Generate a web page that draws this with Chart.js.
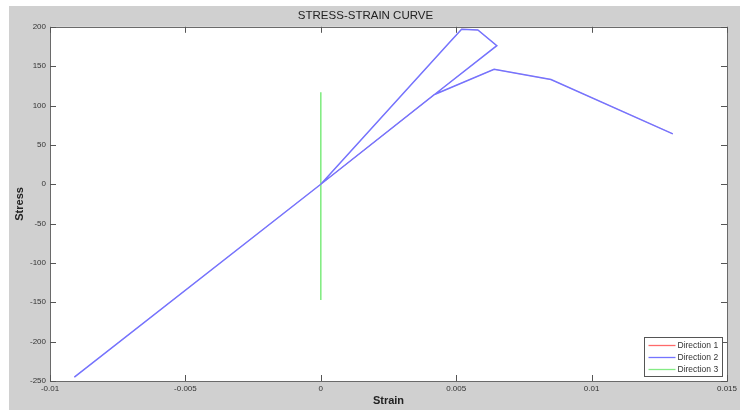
<!DOCTYPE html>
<html>
<head>
<meta charset="utf-8">
<script src="https://cdn.jsdelivr.net/npm/chart.js@4/dist/chart.umd.min.js"></script>
<style>
html,body{margin:0;padding:0;background:#fff;}
#wrap{width:740px;height:410px;position:relative;}
</style>
</head>
<body>
<div id="wrap"><canvas id="c" width="740" height="410"></canvas></div>
<script>
// ---- data ----
const strain1 = [-0.0091, 0, 0.0042, 0.0065, 0.0058, 0.0052, 0.0047, 0, 0.0042, 0.0064, 0.0085, 0.013];
const stress1 = [-245, 0, 114, 176, 196, 197, 178, 0, 114, 146, 133, 64];
const strain2 = [-0.0091, 0, 0.0042, 0.0065, 0.0058, 0.0052, 0.0047, 0, 0.0042, 0.0064, 0.0085, 0.013];
const stress2 = [-245, 0, 114, 176, 196, 197, 178, 0, 114, 146, 133, 64];
const strain3 = [0, 0];
const stress3 = [-147, 117];
const seriesLabels = ['Direction 1', 'Direction 2', 'Direction 3'];
const xTicks = [-0.01, -0.005, 0, 0.005, 0.01, 0.015];
const xTickLabels = ['-0.01', '-0.005', '0', '0.005', '0.01', '0.015'];
const yTicks = [-250, -200, -150, -100, -50, 0, 50, 100, 150, 200];
const yTickLabels = ['-250', '-200', '-150', '-100', '-50', '0', '50', '100', '150', '200'];

const FONT = 'Arial, "Liberation Sans", Helvetica, sans-serif';
const pts = (xs, ys) => xs.map((x, i) => ({x: x, y: ys[i]}));
const colors = ['#ff6a6a', '#7474ff', '#84ec84'];

const bgPlugin = {
  id: 'bg',
  beforeDraw(chart) {
    const ctx = chart.ctx, a = chart.chartArea;
    ctx.save();
    ctx.fillStyle = '#ffffff';
    ctx.fillRect(0, 0, chart.width, chart.height);
    ctx.fillStyle = '#d0d0d0';
    ctx.fillRect(9, 6, chart.width - 9, chart.height - 6);
    ctx.fillStyle = '#ffffff';
    ctx.fillRect(a.left, a.top, a.right - a.left, a.bottom - a.top);
    ctx.restore();
  },
  afterDraw(chart) {
    const ctx = chart.ctx, a = chart.chartArea;
    const xs = chart.scales.x, ys = chart.scales.y;
    ctx.save();
    ctx.lineWidth = 1;
    ctx.strokeStyle = '#6a6a6a';
    ctx.strokeRect(Math.round(a.left) + 0.5, Math.round(a.top) + 0.5, Math.round(a.right - a.left), Math.round(a.bottom - a.top));
    ctx.strokeStyle = '#555';
    ctx.beginPath();
    xTicks.forEach(v => {
      const px = Math.round(xs.getPixelForValue(v)) + 0.5;
      ctx.moveTo(px, a.bottom); ctx.lineTo(px, a.bottom - 6);
      ctx.moveTo(px, a.top); ctx.lineTo(px, a.top + 6);
    });
    yTicks.forEach(v => {
      const py = Math.round(ys.getPixelForValue(v)) + 0.5;
      ctx.moveTo(a.left, py); ctx.lineTo(a.left + 6, py);
      ctx.moveTo(a.right, py); ctx.lineTo(a.right - 6, py);
    });
    ctx.stroke();
    const lx = Math.round(a.right) - 82.5, ly = Math.round(a.bottom) - 43.5, lw = 78, lh = 39;
    ctx.fillStyle = '#fff';
    ctx.fillRect(lx, ly, lw, lh);
    ctx.strokeStyle = '#555';
    ctx.strokeRect(lx, ly, lw, lh);
    ctx.font = '8.5px ' + FONT;
    ctx.textBaseline = 'middle';
    ctx.textAlign = 'left';
    chart.data.datasets.forEach((ds, i) => {
      const yy = ly + 8 + i * 12;
      ctx.strokeStyle = ds.borderColor;
      ctx.lineWidth = 1.3;
      ctx.beginPath();
      ctx.moveTo(lx + 4, yy); ctx.lineTo(lx + 31, yy);
      ctx.stroke();
      ctx.fillStyle = '#333';
      ctx.fillText(ds.label, lx + 33, yy);
    });
    ctx.restore();
  }
};

new Chart(document.getElementById('c'), {
  type: 'scatter',
  data: {
    datasets: [
      {label: seriesLabels[0], data: pts(strain1, stress1), showLine: true, borderColor: colors[0], backgroundColor: colors[0], borderWidth: 0.5, pointRadius: 0, order: 2},
      {label: seriesLabels[1], data: pts(strain2, stress2), showLine: true, borderColor: colors[1], backgroundColor: colors[1], borderWidth: 1.5, pointRadius: 0, order: 0},
      {label: seriesLabels[2], data: pts(strain3, stress3), showLine: true, borderColor: colors[2], backgroundColor: colors[2], borderWidth: 1.6, pointRadius: 0, order: 1}
    ]
  },
  options: {
    responsive: false,
    animation: false,
    devicePixelRatio: 1,
    layout: {padding: {top: 6, right: 9, bottom: 0, left: 0}},
    plugins: {
      legend: {display: false},
      tooltip: {enabled: false},
      title: {
        display: true,
        text: 'STRESS-STRAIN CURVE',
        color: '#222',
        font: {family: FONT, size: 11.5, weight: 'normal'},
        padding: {top: 3, bottom: 4}
      }
    },
    scales: {
      x: {
        type: 'linear',
        min: xTicks[0], max: xTicks[xTicks.length - 1],
        afterBuildTicks: s => { s.ticks = xTicks.map(v => ({value: v})); },
        afterFit: s => { s.height = 29; },
        grid: {display: false, drawTicks: false},
        border: {display: false},
        ticks: {
          padding: 3,
          color: '#333',
          font: {family: FONT, size: 8},
          maxRotation: 0, autoSkip: false,
          callback: (v, i) => xTickLabels[i]
        },
        title: {display: true, text: 'Strain', color: '#222', font: {family: FONT, size: 11, weight: 'bold'}, padding: {top: 2, bottom: 2}}
      },
      y: {
        type: 'linear',
        min: yTicks[0], max: yTicks[yTicks.length - 1],
        afterBuildTicks: s => { s.ticks = yTicks.map(v => ({value: v})); },
        afterFit: s => { s.width = 50; },
        grid: {display: false, drawTicks: false},
        border: {display: false},
        ticks: {
          padding: 4,
          color: '#333',
          font: {family: FONT, size: 8},
          autoSkip: false,
          callback: (v, i) => yTickLabels[i]
        },
        title: {display: true, text: 'Stress', color: '#222', font: {family: FONT, size: 11, weight: 'bold'}, padding: {top: 13, bottom: 0}}
      }
    }
  },
  plugins: [bgPlugin]
});
</script>
</body>
</html>
